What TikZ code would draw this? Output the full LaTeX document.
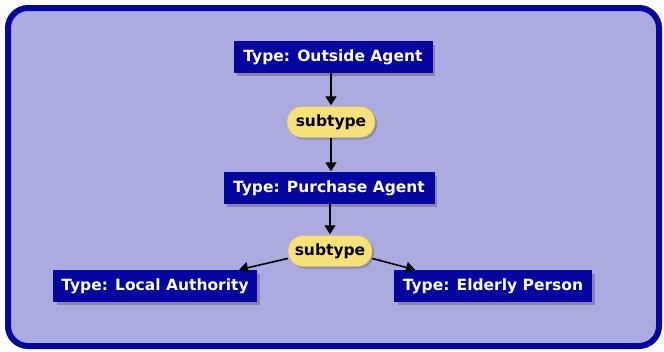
\documentclass[tikz,border=0pt]{standalone}
\usepackage{fontspec}
\setmainfont{DejaVu Sans}
\usetikzlibrary{arrows.meta,shapes.geometric,shadows}
\definecolor{bgfill}{HTML}{ABABE0}
\definecolor{frame}{HTML}{0505A0}
\definecolor{boxblue}{HTML}{0505A0}
\definecolor{pill}{HTML}{F7E27A}
\definecolor{shade}{HTML}{8585A8}
\tikzset{
  typebox/.style={draw=boxblue, fill=boxblue, text=white, font=\bfseries\fontsize{15.5}{17}\selectfont,
    minimum height=31pt, inner xsep=5pt, inner ysep=0pt,
    drop shadow={shadow xshift=3pt, shadow yshift=-3pt, fill=shade, opacity=1}},
  subpill/.style={draw=pill!80!black, fill=pill, text=black, font=\bfseries\fontsize{15.5}{17}\selectfont,
    rounded corners=15pt, minimum height=31pt, minimum width=88pt, inner xsep=4pt, inner ysep=0pt,
    drop shadow={shadow xshift=2pt, shadow yshift=-2pt, fill=shade, opacity=0.8}},
  link/.style={line width=1.6pt, draw=black, -{Triangle[length=9pt,width=11pt]}, shorten >=1pt}
}
\begin{document}
\begin{tikzpicture}[x=1pt,y=-1pt]
\useasboundingbox (0,0) rectangle (664,351);
\fill[white] (0,0) rectangle (664,351);
\draw[frame, fill=bgfill, line width=6pt, rounded corners=20pt] (8,8) rectangle (659,346);
\node[typebox, minimum width=198pt] (oa) at (333,57) {Type: Outside Agent};
\node[subpill] (s1) at (331,122) {subtype};
\node[typebox, minimum width=210pt] (pa) at (329,188) {Type: Purchase Agent};
\node[subpill, minimum width=84pt] (s2) at (330,251) {subtype};
\node[typebox, minimum width=203pt] (la) at (155,286) {Type: Local Authority};
\node[typebox, minimum width=197pt] (ep) at (493,286) {Type: Elderly Person};
\coordinate (laT) at (238,270);
\coordinate (epT) at (416,270);
\draw[link] (oa.south -| s1.center) -- (s1.north);
\draw[link] (s1.south) -- (s1.south |- pa.north);
\draw[link] (pa.south -| s2.center) -- (s2.north);
\draw[link] (s2.190) -- (laT);
\draw[link] (s2.-10) -- (epT);
\end{tikzpicture}
\end{document}
